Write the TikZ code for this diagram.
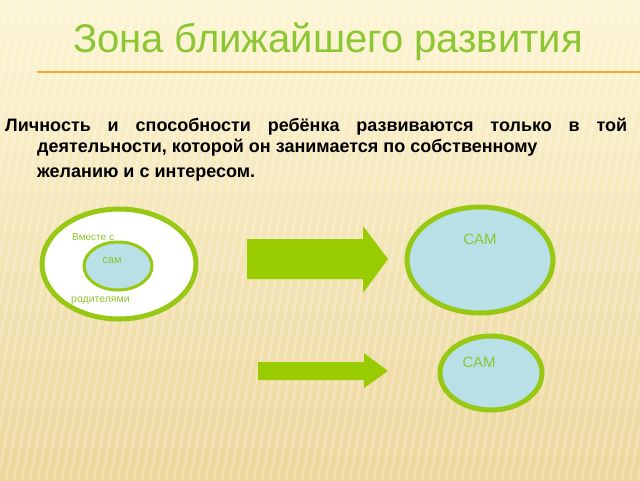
\documentclass[tikz,border=0pt]{standalone}
\usepackage{fontspec}
\setmainfont{Liberation Sans}
\usetikzlibrary{positioning,shapes.geometric}

\definecolor{titlegreen}{RGB}{140,198,50}
\definecolor{ringgreen}{RGB}{150,200,20}
\definecolor{arrowgreen}{RGB}{153,204,0}
\definecolor{paleblue}{RGB}{184,224,230}
\definecolor{creamtop}{RGB}{253,245,212}
\definecolor{creambot}{RGB}{236,214,155}
\definecolor{rulecolor}{RGB}{244,170,50}

\tikzset{
    ring/.style={ellipse, draw=ringgreen, line width=5pt, inner sep=0pt},
    innerring/.style={ellipse, draw=ringgreen, line width=3pt, fill=paleblue, inner sep=0pt},
    label green/.style={text=titlegreen, inner sep=0pt},
    block arrow/.style={fill=arrowgreen, draw=none},
    body text/.style={font=\fontsize{18}{20}\selectfont\bfseries, inner sep=0pt, anchor=base west}
}

\begin{document}
\begin{tikzpicture}[x=1pt,y=-1pt]
    \useasboundingbox (0,0) rectangle (640,480);
    \shade[top color=creamtop, bottom color=creambot] (0,0) rectangle (640,480);
    \foreach \sx in {0,8,...,760}
        \draw[white, opacity=0.22, line width=3pt] (\sx,0) -- (\sx-90,480);

    \node[label green, font=\fontsize{40}{44}\selectfont] (title) at (328,42) {Зона ближайшего развития};
    \draw[rulecolor, line width=1.2pt] (37,72) -- (640,72);

    \node[body text] (line1) at (5,131) {\makebox[622pt][s]{Личность и способности ребёнка развиваются только в той}};
    \node[body text] (line2) at (37,152) {деятельности, которой он занимается по собственному};
    \node[body text] (line3) at (37,177) {желанию и с интересом.};

    \node[ring, fill=white, minimum width=154pt, minimum height=110pt] (outer) at (119,264) {};
    \node[innerring, minimum width=68pt, minimum height=48pt] (inner) at (118,266) {};
    \node[label green, font=\fontsize{10}{11}\selectfont, anchor=west] (together) at (72,237) {Вместе с};
    \node[label green, font=\fontsize{11}{12}\selectfont] (self) at (112,261) {сам};
    \node[label green, font=\fontsize{10.5}{11}\selectfont, anchor=west] (parents) at (71,301) {родителями};

    \path[block arrow] (247,239) -- (363,239) -- (363,226) -- (388,259) -- (363,293) -- (363,279) -- (247,279) -- cycle;
    \node[ring, fill=paleblue, minimum width=146pt, minimum height=106pt] (bigself) at (480,260) {};
    \node[label green, font=\fontsize{15}{16}\selectfont] (bigselftext) at (480,239) {САМ};

    \path[block arrow] (258,362) -- (364,362) -- (364,353) -- (388,371) -- (364,388) -- (364,380) -- (258,380) -- cycle;
    \node[ring, fill=paleblue, minimum width=102pt, minimum height=74pt] (smallself) at (491,373) {};
    \node[label green, font=\fontsize{15}{16}\selectfont] (smallselftext) at (479,362) {САМ};
\end{tikzpicture}
\end{document}
